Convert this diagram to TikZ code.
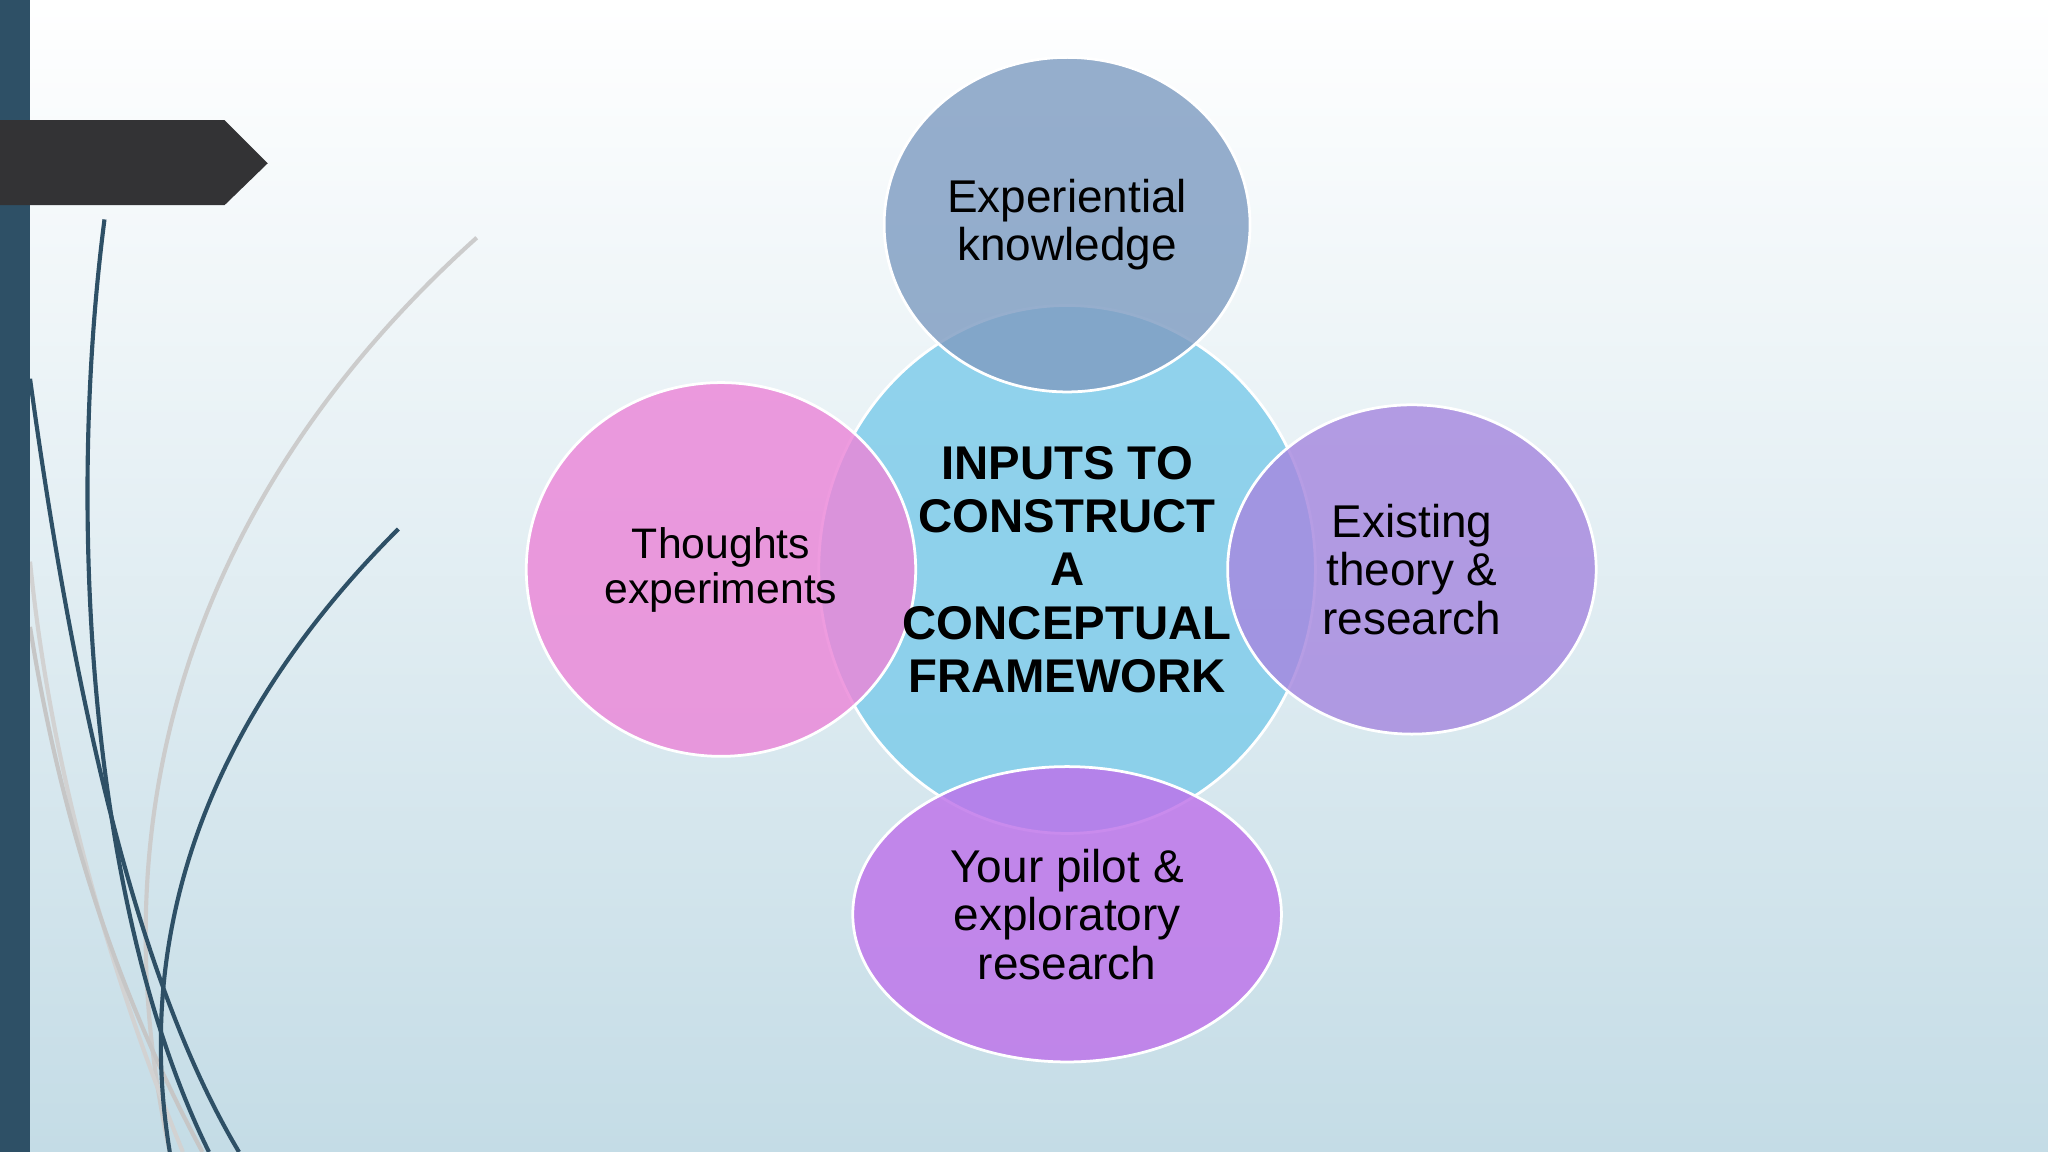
\documentclass[tikz,border=0pt]{standalone}
\usepackage{fontspec}
\setmainfont{Liberation Sans}
\usetikzlibrary{shapes.geometric}
\begin{document}
\begin{tikzpicture}[x=0.01cm,y=-0.01cm,
  bubble/.style={draw=white,line width=0.6pt,fill opacity=0.82,ellipse,inner sep=0},
  lbl/.style={align=center,font=\fontsize{10}{10.6}\selectfont},
  curve/.style={line width=0.9pt}]
\definecolor{bgtop}{HTML}{FFFFFF}
\definecolor{bgbot}{HTML}{C4DCE6}
\definecolor{bar}{HTML}{2E5066}
\definecolor{banner}{HTML}{333335}
\definecolor{cblue}{HTML}{7CCBEA}
\definecolor{ctop}{HTML}{7F9DC2}
\definecolor{cpink}{HTML}{EB86D8}
\definecolor{cviolet}{HTML}{A688DF}
\definecolor{cbottom}{HTML}{BE72EA}
\useasboundingbox (0,0) rectangle (1568,882);
\shade[top color=bgtop,bottom color=bgbot] (0,0) rectangle (1568,882);
% decorative curves
\draw[curve,gray!40] (365,182) .. controls (200,330) and (60,560) .. (130,882);
\draw[curve,gray!35] (23,430) .. controls (40,600) and (90,760) .. (140,882);
\draw[curve,gray!45] (23,480) .. controls (50,650) and (100,780) .. (155,882);
\draw[curve,bar] (80,168) .. controls (50,400) and (70,700) .. (160,882);
\draw[curve,bar] (23,290) .. controls (60,560) and (110,760) .. (183,882);
\draw[curve,bar] (305,405) .. controls (170,540) and (100,700) .. (130,882);
\fill[bar] (0,0) rectangle (23,882);
\fill[banner] (0,92) -- (172,92) -- (205,125) -- (172,157) -- (0,157) -- cycle;
% bubbles
\node[bubble,fill=cblue,minimum width=3.8cm,minimum height=4.04cm] (mid) at (817,436) {};
\node[bubble,fill=ctop,minimum width=2.8cm,minimum height=2.56cm] (top) at (817,172) {};
\node[bubble,fill=cpink,minimum width=2.98cm,minimum height=2.86cm] (left) at (552,436) {};
\node[bubble,fill=cviolet,minimum width=2.82cm,minimum height=2.52cm] (right) at (1081,436) {};
\node[bubble,fill=cbottom,minimum width=3.28cm,minimum height=2.26cm] (bot) at (817,700) {};
% labels
\node[align=center,font=\bfseries\fontsize{10.3}{11.6}\selectfont] (midt) at (817,436) {INPUTS TO\\CONSTRUCT\\A\\CONCEPTUAL\\FRAMEWORK};
\node[lbl] (topt) at (817,172) {Experiential\\knowledge};
\node[lbl,font=\fontsize{9.3}{9.8}\selectfont] (leftt) at (552,436) {Thoughts\\experiments};
\node[lbl] (rightt) at (1081,436) {Existing\\theory \&\\research};
\node[lbl] (bott) at (817,700) {Your pilot \&\\exploratory\\research};
\end{tikzpicture}
\end{document}
